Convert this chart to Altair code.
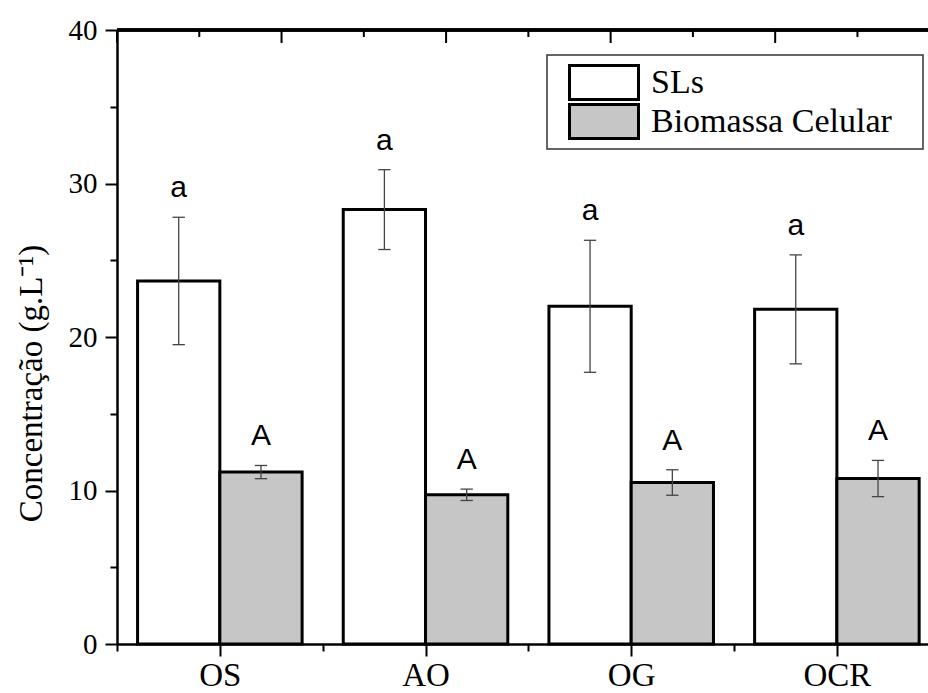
import altair as alt
import pandas as pd

# ---- data ----
categories = ["OS", "AO", "OG", "OCR"]
series_names = ["SLs", "Biomassa Celular"]
sls_mean = [23.65, 28.3, 22.0, 21.8]
sls_err = [4.15, 2.6, 4.3, 3.55]
bio_mean = [11.2, 9.72, 10.52, 10.78]
bio_err = [0.43, 0.37, 0.83, 1.18]
sls_letters = ["a", "a", "a", "a"]
bio_letters = ["A", "A", "A", "A"]
y_ticks = [0, 5, 10, 15, 20, 25, 30, 35, 40]
top_ticks = [0, 0.4, 0.8, 1.2, 1.6, 2.0, 2.4, 2.8, 3.2, 3.6]
top_major = [True, False, True, False, True, False, True, False, True, False]

rows = []
for i, c in enumerate(categories):
    rows.append({"cat": c, "idx": i, "series": series_names[0], "value": sls_mean[i],
                 "err": sls_err[i], "letter": sls_letters[i]})
    rows.append({"cat": c, "idx": i, "series": series_names[1], "value": bio_mean[i],
                 "err": bio_err[i], "letter": bio_letters[i]})
df = pd.DataFrame(rows)
tick_df = pd.DataFrame({"t": top_ticks, "major": top_major})

W, H = 811, 614
XMAX = 3.943
SERIF = "Liberation Serif"

xscale = alt.Scale(domain=[0, XMAX], nice=False, zero=False)
yscale = alt.Scale(domain=[0, 40], nice=False)

label_arr = "[" + ",".join("'" + c + "'" for c in categories) + "]"
x_axis = alt.Axis(
    values=[0, 0.5, 1, 1.5, 2, 2.5, 3, 3.5],
    labelExpr="(datum.value % 1) === 0.5 ? " + label_arr + "[floor(datum.value)] : ''",
    tickSize={"condition": {"test": "(datum.value % 1) === 0.5", "value": 12}, "value": 7},
    tickWidth=2, tickColor="black",
    domainWidth=2.5, domainColor="black",
    labelFont=SERIF, labelFontSize=33, labelColor="black", labelPadding=3,
    labelOverlap=False, labelFlush=False, labelBound=False,
    grid=False, title=None,
)
y_axis = alt.Axis(
    values=y_ticks,
    labelExpr="datum.value % 10 === 0 ? datum.label : ''",
    tickSize={"condition": {"test": "datum.value % 10 === 0", "value": 12}, "value": 7},
    tickWidth=2, tickColor="black",
    domainWidth=2.5, domainColor="black",
    labelFont=SERIF, labelFontSize=29, labelColor="black", labelPadding=8,
    labelOverlap=False, labelFlush=False, labelBound=False,
    grid=False,
    title="Concentração (g.L⁻¹)",
    titleFont=SERIF, titleFontSize=33, titleFontWeight="normal", titleColor="black",
    titleAngle=270, titleAlign="center", titleBaseline="middle",
    titleX=-86, titleY=353,
)

base = alt.Chart(df).transform_calculate(
    x0="datum.idx + (datum.series === 'SLs' ? 0.1 : 0.5)",
).transform_calculate(
    x1="datum.x0 + 0.4", xc="datum.x0 + 0.2",
    lo="datum.value - datum.err", hi="datum.value + datum.err",
)

bars = base.mark_bar(stroke="black", strokeWidth=3, opacity=1).encode(
    x=alt.X("x0:Q", scale=xscale, axis=x_axis),
    x2="x1:Q",
    y=alt.Y("value:Q", scale=yscale, axis=y_axis),
    y2=alt.datum(0),
    color=alt.Color(
        "series:N",
        scale=alt.Scale(domain=series_names, range=["white", "#c6c6c6"]),
        legend=alt.Legend(
            title="\u00a0", titleOrient="right", titlePadding=22, titleFontSize=10,
            orient="none", legendX=430, legendY=25,
            strokeColor="#333", fillColor="white",
            padding=9, rowPadding=2, clipHeight=37,
            symbolType="M-1,-0.49H1V0.49H-1Z", symbolSize=4761,
            symbolStrokeColor="black", symbolStrokeWidth=3, symbolOffset=12,
            symbolOpacity=1,
            labelFont=SERIF, labelFontSize=34, labelColor="black", labelOffset=11,
            labelLimit=400,
        ),
    ),
)

err_rule = base.mark_rule(color="#444", strokeWidth=1.3).encode(
    x=alt.X("xc:Q", scale=xscale, axis=x_axis),
    y=alt.Y("lo:Q", scale=yscale, axis=y_axis),
    y2="hi:Q",
)

caps = base.transform_fold(["lo", "hi"], as_=["k", "cy"]).transform_calculate(
    ca="datum.xc - 0.03", cb="datum.xc + 0.03"
).mark_rule(color="#444", strokeWidth=1.3).encode(
    x=alt.X("ca:Q", scale=xscale, axis=x_axis),
    x2="cb:Q",
    y=alt.Y("cy:Q", scale=yscale, axis=y_axis),
)

letters = base.mark_text(
    font="Liberation Sans", fontSize=30, color="black", baseline="alphabetic",
    align="center", dy=-20,
).encode(
    x=alt.X("xc:Q", scale=xscale, axis=x_axis),
    y=alt.Y("hi:Q", scale=yscale, axis=y_axis),
    text="letter:N",
)

top_line = alt.Chart(tick_df).mark_rule(color="black", strokeWidth=2.5).encode(
    x=alt.value(0), x2=alt.value(W), y=alt.value(0)
)

top_major_marks = alt.Chart(tick_df).transform_filter("datum.major").mark_rule(
    color="black", strokeWidth=2
).encode(
    x=alt.X("t:Q", scale=xscale, axis=x_axis),
    y=alt.value(0), y2=alt.value(13),
)
top_minor_marks = alt.Chart(tick_df).transform_filter("!datum.major").mark_rule(
    color="black", strokeWidth=2
).encode(
    x=alt.X("t:Q", scale=xscale, axis=x_axis),
    y=alt.value(0), y2=alt.value(7),
)

chart = alt.layer(
    bars, err_rule, caps, letters, top_line, top_major_marks, top_minor_marks
).properties(
    width=W, height=H,
    autosize=alt.AutoSizeParams(type="none"),
    padding={"left": 117, "top": 30, "right": 0, "bottom": 49},
).configure_view(stroke=None).configure(background="white").configure_legend(strokeWidth=1.5)

chart.save("out.html", embed_options={"renderer": "svg", "actions": False})
